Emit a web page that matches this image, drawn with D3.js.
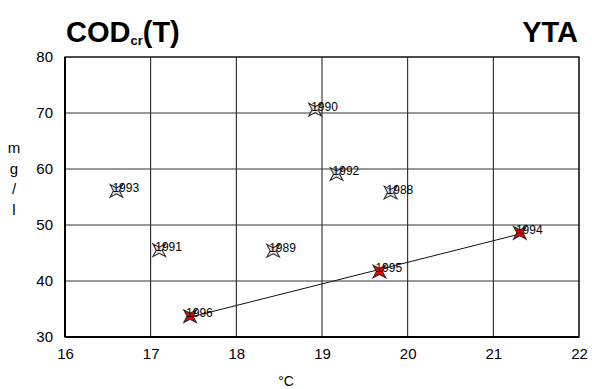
<!DOCTYPE html>
<html>
<head>
<meta charset="utf-8">
<script src="https://cdn.jsdelivr.net/npm/d3@7"></script>
<style>
  body { margin: 0; background: #fff; }
  text { font-family: "Liberation Sans", Arial, sans-serif; }
</style>
</head>
<body>
<div id="chart-area"></div>
<script>
// data
var years = ["1988", "1989", "1990", "1991", "1992", "1993", "1994", "1995", "1996"];
var temps = [19.8, 18.43, 18.92, 17.1, 19.17, 16.6, 21.31, 19.67, 17.46];
var cod = [55.8, 45.4, 70.6, 45.5, 59.1, 56.1, 48.6, 41.7, 33.7];
var highlighted = ["1994", "1995", "1996"];
var xTicks = [16, 17, 18, 19, 20, 21, 22];
var yTicks = [30, 40, 50, 60, 70, 80];

var margin = { left: 65, right: 13, top: 57, bottom: 52 };
var W = 592, H = 389;
var width = W - margin.left - margin.right;
var height = H - margin.top - margin.bottom;

var svg = d3.select("#chart-area").append("svg")
    .attr("width", W)
    .attr("height", H);

var g = svg.append("g")
    .attr("transform", "translate(" + margin.left + "," + margin.top + ")");

var x = d3.scaleLinear().domain([16, 22]).range([0, width]);
var y = d3.scaleLinear().domain([30, 80]).range([height, 0]);

// grid
g.selectAll(".vgrid").data(xTicks).enter().append("line")
    .attr("x1", d => x(d)).attr("x2", d => x(d))
    .attr("y1", 0).attr("y2", height)
    .attr("stroke", "#111").attr("stroke-width", 1);
g.selectAll(".hgrid").data(yTicks).enter().append("line")
    .attr("y1", d => y(d)).attr("y2", d => y(d))
    .attr("x1", 0).attr("x2", width)
    .attr("stroke", "#333").attr("stroke-width", 1);

// frame
g.append("rect")
    .attr("x", 0).attr("y", 0)
    .attr("width", width).attr("height", height)
    .attr("fill", "none").attr("stroke", "#222").attr("stroke-width", 1.3);
g.append("line").attr("x1", 0).attr("x2", width).attr("y1", height).attr("y2", height)
    .attr("stroke", "#000").attr("stroke-width", 2);
g.append("line").attr("x1", 0).attr("x2", 0).attr("y1", 0).attr("y2", height)
    .attr("stroke", "#000").attr("stroke-width", 2);

// axes labels
var bottomAxis = d3.axisBottom(x).tickValues(xTicks).tickFormat(d3.format("d")).tickSize(0).tickPadding(11);
g.append("g")
    .attr("transform", "translate(0," + height + ")")
    .call(bottomAxis)
    .call(a => a.select(".domain").remove())
    .selectAll("text")
    .attr("font-size", "15px").attr("fill", "#000")
    .style("font-family", "Liberation Sans, Arial, sans-serif");

var leftAxis = d3.axisLeft(y).tickValues(yTicks).tickFormat(d3.format("d")).tickSize(0).tickPadding(12);
g.append("g")
    .call(leftAxis)
    .call(a => a.select(".domain").remove())
    .selectAll("text")
    .attr("font-size", "15px").attr("fill", "#000")
    .style("font-family", "Liberation Sans, Arial, sans-serif");

// title
var title = svg.append("text")
    .attr("x", 66).attr("y", 42)
    .attr("font-size", "29px").attr("font-weight", "bold");
title.append("tspan").text("COD");
title.append("tspan").attr("font-size", "13px").attr("dy", 3).text("cr");
title.append("tspan").attr("dy", -3).text("(T)");

svg.append("text")
    .attr("x", 578).attr("y", 42)
    .attr("text-anchor", "end")
    .attr("font-size", "29px").attr("font-weight", "bold")
    .text("YTA");

// x label
svg.append("text")
    .attr("x", 286).attr("y", 386)
    .attr("text-anchor", "middle")
    .attr("font-size", "14px")
    .text("°C");

// y label stacked
var yl = ["m", "g", "/", "l"];
svg.selectAll(".ylab").data(yl).enter().append("text")
    .attr("x", 14).attr("y", (d, i) => 153 + i * 20.5)
    .attr("text-anchor", "middle")
    .attr("font-size", "15px")
    .text(d => d);

// trend line through highlighted years (least squares)
var hx = [], hy = [];
years.forEach((yr, i) => {
    if (highlighted.indexOf(yr) >= 0) { hx.push(temps[i]); hy.push(cod[i]); }
});
var mx = d3.mean(hx), my = d3.mean(hy);
var sxy = d3.sum(hx.map((v, i) => (v - mx) * (hy[i] - my)));
var sxx = d3.sum(hx.map(v => (v - mx) * (v - mx)));
var slope = sxy / sxx;
var x0 = d3.min(hx), x1 = d3.max(hx);
g.append("line")
    .attr("x1", x(x0)).attr("y1", y(my + slope * (x0 - mx)))
    .attr("x2", x(x1)).attr("y2", y(my + slope * (x1 - mx)))
    .attr("stroke", "#111").attr("stroke-width", 1);

// star marker
function starPath(r, ri) {
    var pts = [];
    for (var k = 0; k < 8; k++) {
        var a = -Math.PI / 2 + k * Math.PI / 4;
        var rr = k % 2 === 0 ? r : ri;
        pts.push([Math.cos(a) * rr, Math.sin(a) * rr]);
    }
    return "M" + pts.map(p => p[0].toFixed(2) + "," + p[1].toFixed(2)).join("L") + "Z";
}

var pts = g.selectAll(".pt").data(years).enter().append("g")
    .attr("transform", (d, i) => "translate(" + x(temps[i]) + "," + y(cod[i]) + ") rotate(45)");
pts.append("path")
    .attr("d", starPath(9, 3))
    .attr("fill", d => highlighted.indexOf(d) >= 0 ? "#ee0000" : "#e0e0e0")
    .attr("stroke", "#222").attr("stroke-width", 1);

g.selectAll(".lab").data(years).enter().append("text")
    .attr("x", (d, i) => x(temps[i]) - 4)
    .attr("y", (d, i) => y(cod[i]) + 1)
    .attr("font-size", "12px")
    .attr("fill", "#000")
    .text(d => d);
</script>
</body>
</html>
